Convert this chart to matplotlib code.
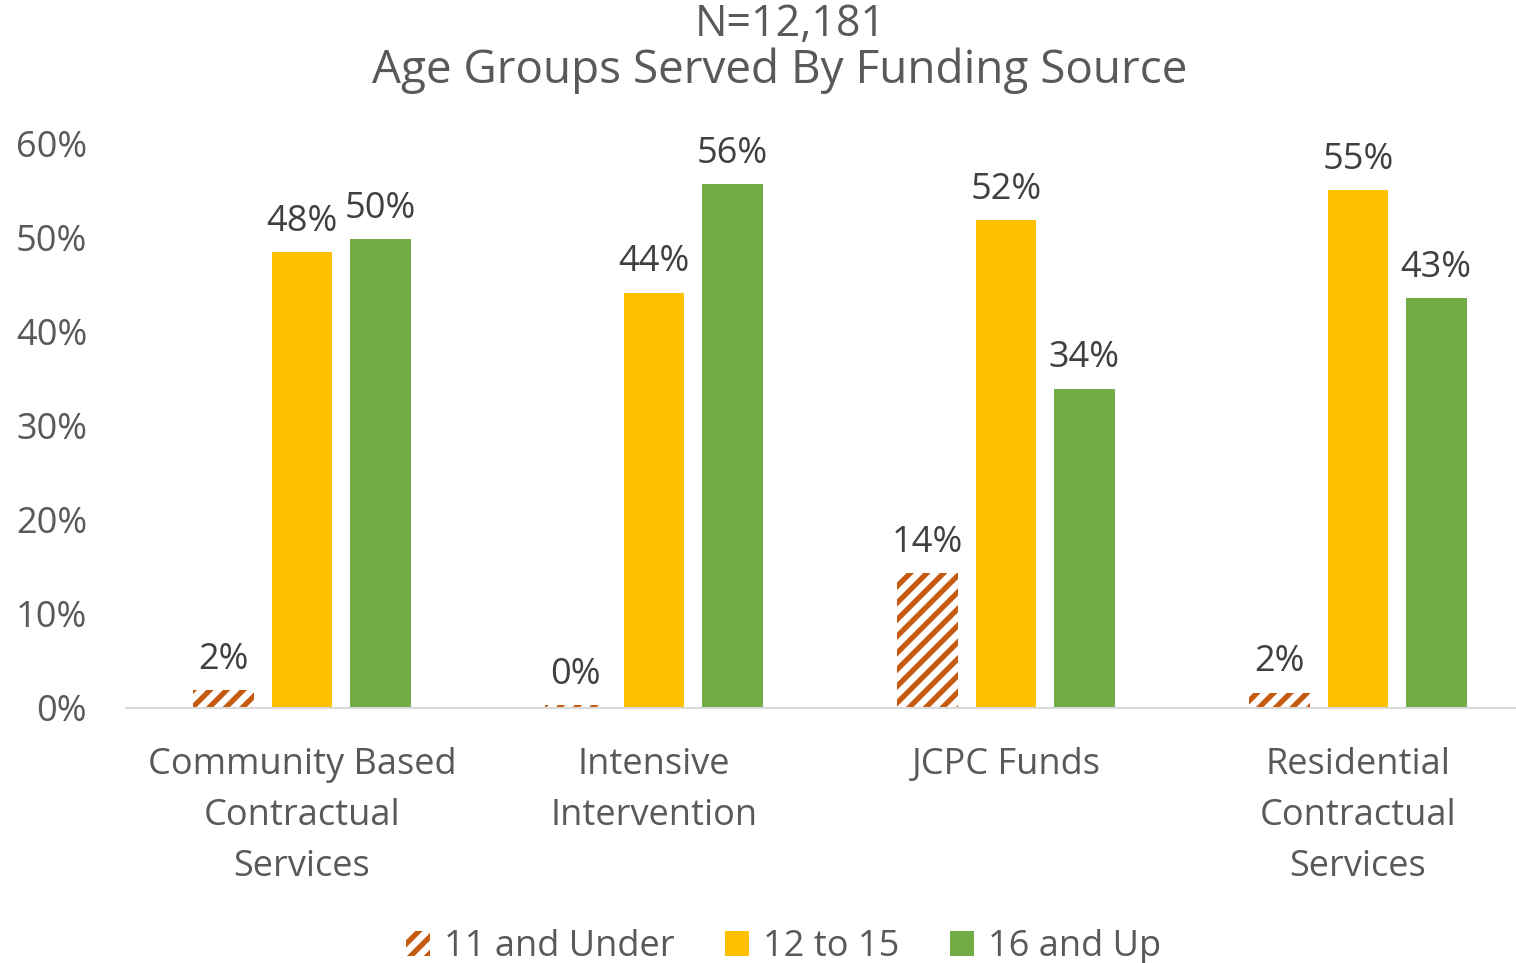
import matplotlib
matplotlib.use('Agg')
import matplotlib.pyplot as plt
import numpy as np

plt.rcParams['font.family'] = ['Open Sans', 'DejaVu Sans']
plt.rcParams['hatch.linewidth'] = 3.8

categories = ['Community Based\nContractual\nServices', 'Intensive\nIntervention',
              'JCPC Funds', 'Residential\nContractual\nServices']
series = ['11 and Under', '12 to 15', '16 and Up']
under_11 = [1.9, 0.3, 14.3, 1.6]
age_12_15 = [48.4, 44.1, 51.8, 55.0]
up_16 = [49.8, 55.6, 33.9, 43.5]
labels_11 = ['2%', '0%', '14%', '2%']
labels_12 = ['48%', '44%', '52%', '55%']
labels_16 = ['50%', '56%', '34%', '43%']

text_col = '#595959'
fig = plt.figure(figsize=(15.16, 9.63), dpi=100)
ax = fig.add_axes([0.0831, 0.2648, 0.9169, 0.5867])

x = np.arange(len(categories))
w = 0.173
off = 0.222

b1 = ax.bar(x - off, under_11, w, color='white', edgecolor='#C55A11', hatch='//', linewidth=0,
            label=series[0])
b2 = ax.bar(x, age_12_15, w, color='#FFC000', label=series[1])
b3 = ax.bar(x + off, up_16, w, color='#70AD47', label=series[2])

for bars, labs in [(b1, labels_11), (b2, labels_12), (b3, labels_16)]:
    for rect, lab in zip(bars, labs):
        ax.annotate(lab, (rect.get_x() + rect.get_width() / 2, rect.get_height()),
                    xytext=(0, 9), textcoords='offset points', ha='center', va='bottom',
                    fontsize=26, color='#404040')

ax.set_ylim(0, 60)
ax.set_xlim(-0.5, 3.449)
ax.set_yticks(np.arange(0, 61, 10))
ax.set_yticklabels([f'{v}%' for v in range(0, 61, 10)], fontsize=26, color=text_col)
ax.set_xticks(x)
ax.set_xticklabels(categories, fontsize=26, color=text_col, linespacing=1.55, va='top')
ax.tick_params(axis='both', length=0)
ax.tick_params(axis='y', pad=28)
ax.tick_params(axis='x', pad=28)
for s in ['top', 'right', 'left']:
    ax.spines[s].set_visible(False)
ax.spines['bottom'].set_color('#D9D9D9')
ax.spines['bottom'].set_linewidth(1.5)

# two-line title
fig.text(0.521, 0.9626, 'N=12,181', ha='center', va='baseline', fontsize=31, color=text_col)
fig.text(0.514, 0.9138, 'Age Groups Served By Funding Source', ha='center', va='baseline',
         fontsize=33, color=text_col)

leg = fig.legend(loc='lower center', bbox_to_anchor=(0.517, -0.036), ncol=3, frameon=False,
                 fontsize=26, handlelength=0.65, handleheight=0.65, handletextpad=0.4,
                 columnspacing=1.4, labelcolor=text_col)

fig.savefig('out.png', dpi=100)
